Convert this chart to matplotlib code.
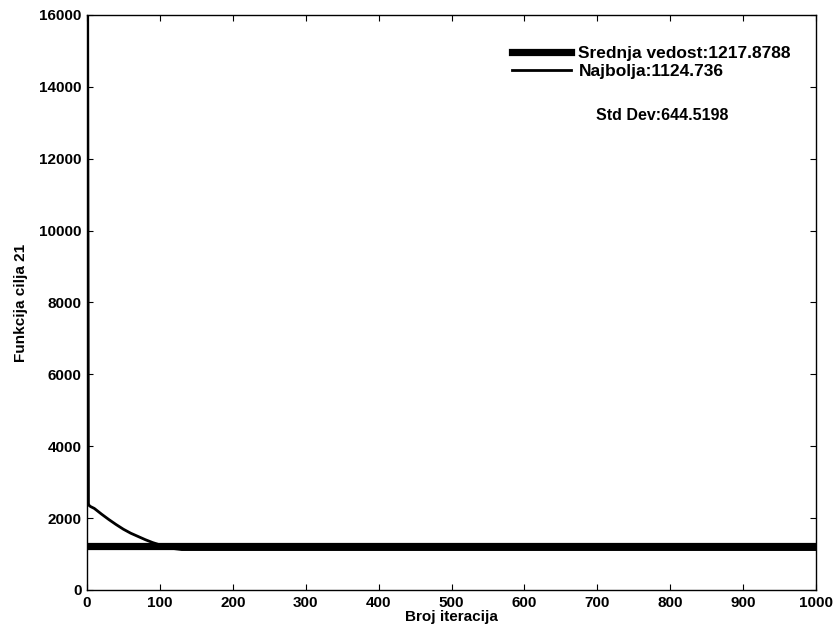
import matplotlib
matplotlib.use("Agg")
import matplotlib.pyplot as plt

plt.rcParams['font.family'] = ['Liberation Sans', 'DejaVu Sans']
plt.rcParams['font.weight'] = 'bold'

# convergence data
iters = [1, 1000]
mean_fit = [1217.8788, 1217.8788]

best_iter = [1, 2, 3, 5, 10, 20, 30, 40, 50, 60, 70, 80, 90, 100, 110, 120, 130, 1000]
best_val = [16000, 2400, 2350, 2320, 2270, 2110, 1960, 1820, 1690, 1580, 1490, 1400,
             1320, 1255, 1195, 1150, 1124.736, 1124.736]

mean_label = 'Srednja vedost:1217.8788'
best_label = 'Najbolja:1124.736'
std_text = 'Std Dev:644.5198'

fig = plt.figure(figsize=(8.38, 6.37), dpi=100)
ax = fig.add_axes([0.1038, 0.0738, 0.87, 0.9027])

ax.plot(iters, mean_fit, color='black', linewidth=5.2, label=mean_label)
ax.plot(best_iter, best_val, color='black', linewidth=2.0, label=best_label)

ax.set_xlim(0, 1000)
ax.set_ylim(0, 16000)
ax.set_xticks(range(0, 1001, 100))
ax.set_yticks(range(0, 16001, 2000))
ax.tick_params(direction='in', length=4, top=True, right=True, labelsize=11, width=0.8, pad=4)
for s in ax.spines.values():
    s.set_linewidth(1.0)

ax.set_xlabel('Broj iteracija', fontsize=11, fontweight='bold', labelpad=0)
ax.set_ylabel('Funkcija cilja 21', fontsize=11, fontweight='bold', labelpad=8)

leg = ax.legend(loc='upper left', bbox_to_anchor=(0.574, 0.958), frameon=False,
                fontsize=12.5, handlelength=3.4, handletextpad=0.4, labelspacing=0.15,
                borderaxespad=0)
ax.text(0.789, 0.826, std_text, transform=ax.transAxes, fontsize=11.5,
        fontweight='bold', ha='center', va='center')

fig.savefig('out.png', dpi=100)
